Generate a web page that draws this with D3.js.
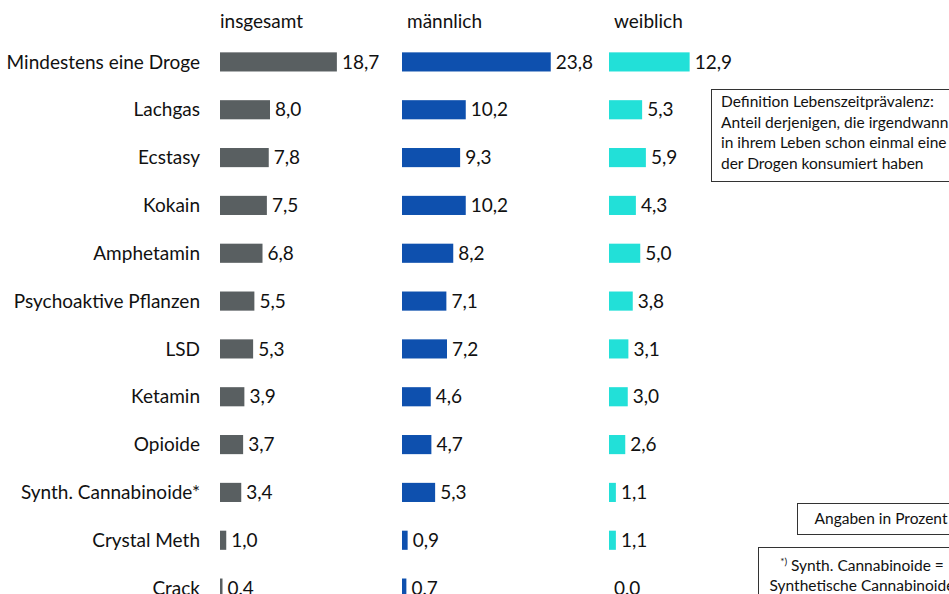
<!DOCTYPE html>
<html>
<head>
<meta charset="utf-8">
<script src="https://cdn.jsdelivr.net/npm/d3@7"></script>
<style>
  body { margin: 0; background: #fff; }
  svg { display: block; font-family: Lato, "Open Sans", sans-serif; }
</style>
</head>
<body>
<svg id="chart" width="949" height="594"></svg>
<script>
// ── 데이터 ────────────────────────────────────────────
const drugs = ['Mindestens eine Droge', 'Lachgas', 'Ecstasy', 'Kokain', 'Amphetamin',
  'Psychoaktive Pflanzen', 'LSD', 'Ketamin', 'Opioide', 'Synth. Cannabinoide*',
  'Crystal Meth', 'Crack'];
const gesamt    = [18.7, 8.0, 7.8, 7.5, 6.8, 5.5, 5.3, 3.9, 3.7, 3.4, 1.0, 0.4];
const maennlich = [23.8, 10.2, 9.3, 10.2, 8.2, 7.1, 7.2, 4.6, 4.7, 5.3, 0.9, 0.7];
const weiblich  = [12.9, 5.3, 5.9, 4.3, 5.0, 3.8, 3.1, 3.0, 2.6, 1.1, 1.1, 0.0];
const groups = ['insgesamt', 'männlich', 'weiblich'];

const COLOR = ['#595f61', '#0e50ae', '#22e0d8'];
const PANEL_X = [220, 402, 609];
const FS = 19;

const svg = d3.select('#chart');
const fmt = v => v.toFixed(1).replace('.', ',');

const y = d3.scaleBand().domain(drugs).range([38, 612]).paddingInner(0.6).paddingOuter(0.3);
const x = d3.scaleLinear().domain([0, 10]).range([0, 62.5]);

// 라벨
svg.append('g').selectAll('text')
  .data(drugs)
  .join('text')
  .attr('x', 200)
  .attr('y', d => y(d) + y.bandwidth() / 2)
  .attr('dy', '0.35em')
  .attr('text-anchor', 'end')
  .attr('font-size', FS)
  .attr('fill', '#111')
  .text(d => d);

// 패널
[gesamt, maennlich, weiblich].forEach((vals, i) => {
  const g = svg.append('g').attr('transform', `translate(${PANEL_X[i]},0)`);
  g.append('text')
    .attr('x', i === 0 ? 0 : 5)
    .attr('y', 28)
    .attr('font-size', FS)
    .attr('fill', '#111')
    .text(groups[i]);

  g.selectAll('rect')
    .data(vals)
    .join('rect')
    .attr('x', 0)
    .attr('y', (d, j) => y(drugs[j]))
    .attr('width', d => x(d))
    .attr('height', y.bandwidth())
    .attr('fill', COLOR[i]);

  g.selectAll('text.val')
    .data(vals)
    .join('text')
    .attr('class', 'val')
    .attr('x', d => x(d) + 5)
    .attr('y', (d, j) => y(drugs[j]) + y.bandwidth() / 2)
    .attr('dy', '0.35em')
    .attr('font-size', FS)
    .attr('fill', '#111')
    .text(fmt);
});

// 설명 박스
function box(x0, y0, w, h, lines, anchor, tx, ty0, lh) {
  svg.append('rect')
    .attr('x', x0 + 0.5).attr('y', y0 + 0.5)
    .attr('width', w).attr('height', h)
    .attr('fill', '#fff').attr('stroke', '#333').attr('stroke-width', 1);
  const t = svg.append('text')
    .attr('font-size', 15.5)
    .attr('fill', '#111')
    .attr('text-anchor', anchor);
  lines.forEach((l, k) => {
    t.append('tspan').attr('x', tx).attr('y', ty0 + k * lh).html(l);
  });
}

box(711, 89, 260, 92, [
  'Definition Lebenszeitprävalenz:',
  'Anteil derjenigen, die irgendwann',
  'in ihrem Leben schon einmal eine',
  'der Drogen konsumiert haben'
], 'start', 721, 107, 20.5);

box(797, 503, 160, 31, ['Angaben in Prozent'], 'middle', 881, 524, 0);

box(758, 547, 220, 60, [
  '<tspan font-size="10" dy="-6">*)</tspan><tspan dy="6"> Synth. Cannabinoide =</tspan>',
  'Synthetische Cannabinoide'
], 'middle', 862, 571, 20);
</script>
</body>
</html>
